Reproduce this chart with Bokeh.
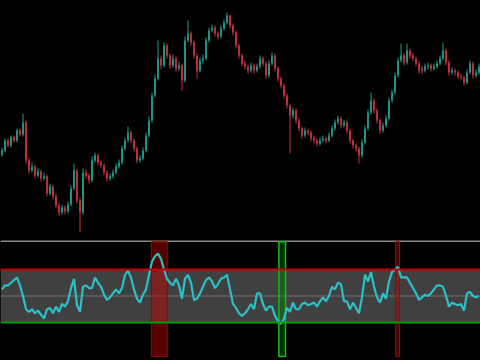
from bokeh.plotting import figure
from bokeh.layouts import column
from bokeh.models import Span, BoxAnnotation, Range1d, ColumnDataSource
from bokeh.embed import file_html
from bokeh.resources import INLINE

opens = [86, 90, 100, 95, 103, 100, 110, 106, 118, 80,
         70, 74, 65, 69, 62, 64, 47, 54, 44, 35,
         28, 33, 29, 36, 52, 70, 40, 28, 68, 65,
         60, 80, 85, 78, 75, 68, 62, 64, 68, 74,
         78, 92, 100, 108, 100, 92, 80, 82, 90, 105,
         120, 145, 162, 182, 175, 195, 185, 175, 182, 172,
         175, 160, 200, 207, 198, 185, 170, 180, 182, 200,
         210, 213, 207, 204, 212, 218, 225, 215, 208, 195,
         185, 177, 174, 170, 175, 170, 174, 182, 177, 165,
         177, 185, 172, 162, 155, 145, 135, 125, 130, 120,
         112, 105, 110, 108, 102, 100, 97, 100, 102, 100,
         105, 112, 118, 122, 115, 118, 110, 100, 95, 92,
         85, 98, 112, 128, 140, 130, 120, 110, 115, 122,
         140, 148, 165, 180, 185, 178, 190, 185, 182, 177,
         172, 170, 174, 175, 172, 174, 177, 182, 190, 178,
         168, 170, 168, 164, 163, 158, 168, 177, 165, 168]

highs = [93, 102, 102, 105, 105, 112, 112, 127, 120, 83,
         78, 76, 72, 71, 68, 66, 57, 56, 47, 38,
         36, 35, 39, 55, 77, 72, 43, 72, 71, 67,
         84, 88, 87, 80, 77, 70, 67, 71, 77, 81,
         95, 103, 114, 110, 102, 94, 85, 93, 108, 124,
         148, 166, 200, 185, 198, 197, 187, 186, 184, 179,
         177, 204, 220, 209, 200, 187, 183, 186, 203, 213,
         216, 215, 209, 215, 221, 228, 226, 217, 210, 197,
         187, 180, 176, 178, 177, 177, 185, 184, 179, 180,
         188, 187, 174, 164, 157, 147, 137, 133, 132, 122,
         114, 113, 112, 110, 105, 102, 103, 105, 104, 108,
         115, 121, 125, 124, 121, 120, 112, 102, 97, 94,
         101, 115, 131, 148, 142, 132, 122, 118, 125, 143,
         151, 168, 183, 197, 187, 197, 192, 188, 184, 179,
         175, 177, 178, 177, 177, 180, 185, 198, 192, 180,
         173, 172, 170, 167, 165, 171, 180, 179, 171, 177]

lows = [84, 88, 93, 93, 98, 98, 104, 104, 77, 67,
        68, 62, 63, 59, 60, 44, 45, 41, 32, 25,
        26, 26, 27, 34, 50, 37, 8, 26, 62, 57,
        58, 78, 75, 72, 65, 59, 60, 62, 66, 72,
        76, 90, 98, 97, 89, 77, 78, 80, 88, 103,
        118, 143, 160, 171, 173, 182, 172, 173, 169, 170,
        150, 158, 198, 195, 182, 162, 168, 177, 180, 198,
        208, 204, 201, 202, 210, 216, 212, 205, 192, 182,
        174, 171, 167, 168, 167, 168, 172, 174, 162, 163,
        175, 169, 159, 152, 142, 132, 87, 122, 117, 109,
        102, 103, 105, 99, 97, 94, 95, 98, 97, 98,
        103, 110, 116, 112, 113, 107, 97, 92, 89, 77,
        83, 96, 110, 126, 127, 117, 107, 108, 113, 120,
        138, 146, 163, 178, 175, 176, 182, 179, 174, 167,
        167, 168, 171, 169, 170, 172, 175, 180, 175, 165,
        166, 165, 161, 160, 155, 156, 166, 162, 163, 166]

closes = [90, 100, 95, 103, 100, 110, 106, 118, 80, 70,
          74, 65, 69, 62, 64, 47, 54, 44, 35, 28,
          33, 29, 36, 52, 70, 40, 28, 68, 65, 60,
          80, 85, 78, 75, 68, 62, 64, 68, 74, 78,
          92, 100, 108, 100, 92, 80, 82, 90, 105, 120,
          145, 162, 182, 175, 195, 185, 175, 182, 172, 175,
          160, 200, 207, 198, 185, 170, 180, 182, 200, 210,
          213, 207, 204, 212, 218, 225, 215, 208, 195, 185,
          177, 174, 170, 175, 170, 174, 182, 177, 165, 177,
          185, 172, 162, 155, 145, 135, 125, 130, 120, 112,
          105, 110, 108, 102, 100, 97, 100, 102, 100, 105,
          112, 118, 122, 115, 118, 110, 100, 95, 92, 85,
          98, 112, 128, 140, 130, 120, 110, 115, 122, 140,
          148, 165, 180, 185, 178, 190, 185, 182, 177, 170,
          170, 174, 175, 172, 174, 177, 182, 190, 178, 168,
          170, 168, 164, 163, 158, 168, 177, 165, 168, 174]

rsi = [55, 58, 58, 60, 62, 64, 58, 50, 40, 38,
       40, 37, 39, 36, 33, 40, 41, 37, 42, 38,
       44, 42, 46, 56, 63, 43, 38, 57, 58, 56,
       56, 64, 60, 57, 51, 47, 49, 52, 55, 52,
       56, 66, 69, 64, 55, 48, 45, 51, 55, 66,
       76, 80, 82, 78, 70, 63, 60, 58, 63, 58,
       48, 63, 66, 60, 47, 48, 52, 57, 62, 64,
       61, 56, 59, 63, 64, 66, 55, 44, 41, 37,
       35, 37, 40, 44, 40, 52, 52, 44, 39, 42,
       42, 35, 31, 29, 33, 41, 38, 45, 40, 40,
       44, 45, 43, 44, 45, 42, 46, 49, 46, 50,
       57, 55, 60, 59, 46, 46, 40, 45, 41, 37,
       49, 66, 61, 68, 57, 49, 45, 52, 48, 61,
       68, 70, 72, 64, 64, 64, 60, 56, 52, 47,
       49, 51, 50, 52, 55, 58, 58, 57, 50, 42,
       45, 44, 43, 44, 39, 52, 53, 50, 49, 50]

# overbought / oversold zones (in bar index units)
ob_start = [49.8, 131.2]
ob_end = [55.1, 132.5]
os_start = [92.3]
os_end = [94.5]

upper_level = 70
lower_level = 30
mid_level = 50

UP = "#1e9c8b"
DOWN = "#c8323f"

n = len(closes)
idx = list(range(n))
colors = [UP if c >= o else DOWN for o, c in zip(opens, closes)]
src = ColumnDataSource(dict(
    x=idx, h=highs, l=lows,
    top=[max(o, c) for o, c in zip(opens, closes)],
    bottom=[min(o, c) for o, c in zip(opens, closes)],
    color=colors))

xr = Range1d(-0.5, n - 0.5)

p = figure(width=480, height=240, x_range=xr, y_range=Range1d(0, 240),
           output_backend="svg", toolbar_location=None,
           x_axis_location=None, y_axis_location=None,
           background_fill_color="black", border_fill_color="black",
           min_border=0)
p.outline_line_color = None
p.grid.visible = False
p.segment(x0="x", y0="l", x1="x", y1="h", line_color="color", line_width=1, source=src)
p.vbar(x="x", width=0.6, top="top", bottom="bottom", fill_color="color",
       line_color=None, source=src)

q = figure(width=480, height=120, x_range=xr, y_range=Range1d(1.3, 91.9),
           output_backend="svg", toolbar_location=None,
           x_axis_location=None, y_axis_location=None,
           background_fill_color="black", border_fill_color="black",
           min_border=0)
q.outline_line_color = None
q.grid.visible = False

q.add_layout(BoxAnnotation(bottom=lower_level, top=upper_level, fill_color="#404040",
                           fill_alpha=1.0, line_color=None, level="underlay"))
q.add_layout(Span(location=mid_level, dimension="width", line_color="#707070",
                  line_width=1, level="underlay"))
q.add_layout(Span(location=91.5, dimension="width", line_color="#b8b8b8",
                  line_width=1.5, level="underlay"))

q.quad(left=ob_start, right=ob_end, bottom=4.3, top=91.0, fill_color="#c00000",
       fill_alpha=0.45, line_color="#a00000", line_width=1)
q.quad(left=os_start, right=os_end, bottom=4.3, top=91.0, fill_color="#008000",
       fill_alpha=0.35, line_color="#10c010", line_width=1.5)

q.add_layout(Span(location=upper_level, dimension="width", line_color="#c80000",
                  line_width=2, level="glyph"))
q.add_layout(Span(location=lower_level, dimension="width", line_color="#00a000",
                  line_width=2, level="glyph"))

q.line(idx, rsi, line_color="#2bbfc6", line_width=2.2)

layout = column(p, q, spacing=0, styles={"background-color": "black"})
html = file_html(layout, INLINE)
html = html.replace("<body>", '<body style="margin:0;background-color:black;">', 1)
open("out.html", "w").write(html)
